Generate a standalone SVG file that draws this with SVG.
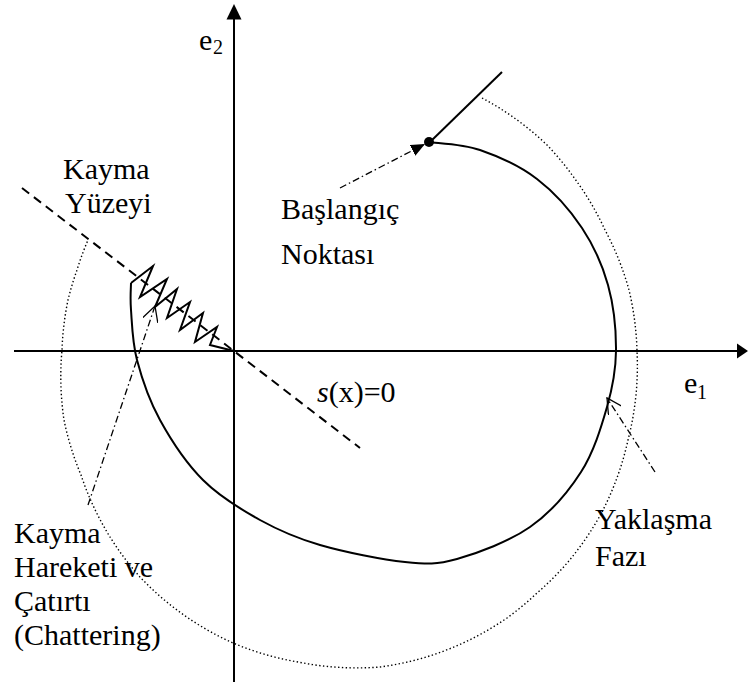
<svg xmlns="http://www.w3.org/2000/svg" width="748" height="687" viewBox="0 0 748 687">
<style>
text{font-family:"Liberation Serif","Times New Roman",serif;font-size:30px;fill:#000}
.sub{font-size:20px}
.axis{stroke:#000;stroke-width:2;fill:none}
.traj{stroke:#000;stroke-width:2;fill:none}
.surf{stroke:#000;stroke-width:2;fill:none;stroke-dasharray:9 6}
.dot{stroke:#000;stroke-width:1.4;fill:none;stroke-dasharray:1.4 2.4}
.lead{stroke:#000;stroke-width:1.3;fill:none;stroke-dasharray:7 3 1.5 3}
</style>
<defs>
<marker id="fillArrow" markerUnits="userSpaceOnUse" viewBox="0 0 14 12" markerWidth="14" markerHeight="12" refX="14" refY="6" orient="auto">
<path d="M0,0 L14,6 L0,12 z" fill="#000"/>
</marker>
<marker id="openArrow" markerUnits="userSpaceOnUse" viewBox="0 0 16 16" markerWidth="16" markerHeight="16" refX="15" refY="8" orient="auto">
<path d="M0,0 L15,8 L0,16" fill="none" stroke="#000" stroke-width="1.3"/>
</marker>
</defs>

<g id="axes">
<line class="axis" x1="14" y1="351" x2="738" y2="351"/>
<polygon points="737,343.5 748,351 737,358.5" fill="#000"/>
<line class="axis" x1="234" y1="682" x2="234" y2="18"/>
<polygon points="234,4 226.5,19.5 241.5,19.5" fill="#000"/>
<text x="199" y="50">e</text><text class="sub" x="213" y="54">2</text>
<text x="684" y="393">e</text><text class="sub" x="697" y="399">1</text>
</g>

<g id="boundary">
<path class="dot" d="M482,98 A295,295 0 0 1 513,117 A295,295 0 0 1 547,145 A295,295 0 0 1 575,179 A295,295 0 0 1 605,230 A295,295 0 0 1 629,290 A295,295 0 0 1 637,351 A295,295 0 0 1 628,440 A295,295 0 0 1 602,512 A295,295 0 0 1 568,562 A295,295 0 0 1 537,593 A295,295 0 0 1 507,618 A295,295 0 0 1 463,643 A295,295 0 0 1 423,658 A295,295 0 0 1 380,667 A295,295 0 0 1 298,662 A295,295 0 0 1 233,643 A295,295 0 0 1 173,607 A295,295 0 0 1 140,577 A295,295 0 0 1 110,537 A295,295 0 0 1 81,475 A295,295 0 0 1 64,420 A295,295 0 0 1 62,350 A295,295 0 0 1 68,300 A295,295 0 0 1 77,270 A295,295 0 0 1 88,240"/>
</g>

<g id="sliding-surface">
<line class="surf" x1="22" y1="188" x2="360" y2="448"/>
<text x="63" y="179">Kayma</text>
<text x="65" y="213">Yüzeyi</text>
<text x="317" y="402"><tspan font-style="italic">s</tspan>(x)=0</text>
</g>

<g id="trajectory">
<line class="traj" x1="430" y1="142" x2="502" y2="72"/>
<path class="traj" d="M429,142 C437.5,143.3 462,143.8 480,150 C498,156.2 520,166 537,179 C554,192 570.2,210.3 582,228 C593.8,245.7 602.3,264.5 608,285 C613.7,305.5 616.2,330.7 616,351 C615.8,371.3 612.8,386.8 607,407 C601.2,427.2 593.8,452 581,472 C568.2,492 550.7,512.5 530,527 C509.3,541.5 477.8,553.2 457,559 C436.2,564.8 427.8,564.3 405,562 C382.2,559.7 344.2,552 320,545 C295.8,538 279.5,530.8 260,520 C240.5,509.2 219.7,496.7 203,480 C186.3,463.3 171,440 160,420 C149,400 141.8,378.3 137,360 C132.2,341.7 132,322.8 131,310 C130,297.2 131,287.5 131,283"/>
<path class="traj" stroke-width="1.7" d="M131,283 L153,266 L140,297 L167,279 L155,307 L177,289 L167,318 L190,302 L180,330 L203,313 L195,342 L217,327 L210,345 L234,351"/>
<circle cx="429" cy="142" r="5" fill="#000"/>
</g>

<g id="start-label">
<text x="281" y="219">Başlangıç</text>
<text x="281" y="264">Noktası</text>
</g>
<g id="approach-label">
<text x="595" y="529">Yaklaşma</text>
<text x="595" y="566">Fazı</text>
</g>
<g id="chatter-label">
<text x="14" y="543">Kayma</text>
<text x="14" y="577">Hareketi ve</text>
<text x="14" y="611">Çatırtı</text>
<text x="14" y="645">(Chattering)</text>
</g>

<g id="connectors">
<line class="lead" x1="340" y1="188" x2="425" y2="144" marker-end="url(#fillArrow)"/>
<line class="lead" x1="88" y1="505" x2="155" y2="306" marker-end="url(#openArrow)"/>
<line class="lead" x1="655" y1="472" x2="607" y2="398" marker-end="url(#openArrow)"/>
</g>
</svg>
